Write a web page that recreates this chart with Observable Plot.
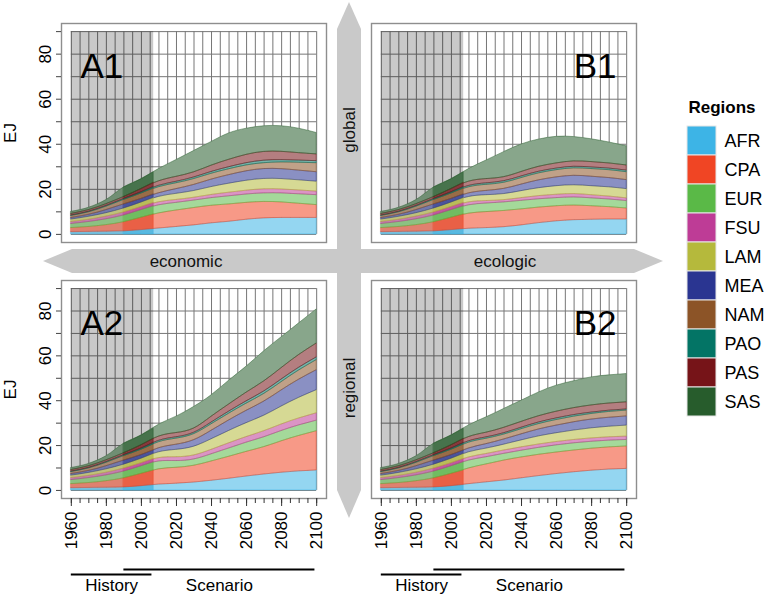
<!DOCTYPE html>
<html><head><meta charset="utf-8">
<script src="https://cdn.jsdelivr.net/npm/d3@7"></script>
<script src="https://cdn.jsdelivr.net/npm/@observablehq/plot@0.6"></script>
<style>
body{margin:0;background:#fff;}
#fig{position:relative;width:767px;height:597px;overflow:hidden;font-family:"Liberation Sans",Arial,Helvetica,sans-serif;}
#fig svg{position:absolute;left:0;top:0;}
</style></head><body><div id="fig"></div>
<script>
// ---------------- data ----------------
const regions = ["AFR","CPA","EUR","FSU","LAM","MEA","NAM","PAO","PAS","SAS"];
const regionColors = ["#3db4e6","#f04524","#5ab947","#be3c96","#b5b93c","#2a3591","#8c5427","#037465","#761418","#275c2c"];
const panels = ["A1","B1","A2","B2"];
const axisNames = ["economic","ecologic","global","regional"];

const historyYears = [1960, 1970, 1975, 1980, 1990, 2000, 2007];
const historyEJ = [
  [1.0, 1.1, 1.15, 1.2, 1.35, 1.9, 2.4],   // AFR
  [1.8, 2.2, 2.5, 2.9, 4.05, 5.5, 6.5],    // CPA
  [1.8, 2.2, 2.4, 2.6, 3.0, 3.4, 3.7],     // EUR
  [0.9, 1.0, 1.1, 1.2, 1.35, 1.35, 1.4],   // FSU
  [1.1, 1.3, 1.4, 1.5, 1.75, 2.0, 2.3],    // LAM
  [0.7, 0.9, 1.1, 1.4, 1.8, 1.6, 1.5],     // MEA
  [0.9, 1.1, 1.3, 1.5, 2.0, 2.4, 2.7],     // NAM
  [0.2, 0.25, 0.3, 0.33, 0.4, 0.5, 0.6],   // PAO
  [0.7, 0.75, 0.75, 0.8, 0.9, 1.5, 1.9],   // PAS
  [0.9, 1.0, 1.3, 1.8, 4.2, 4.3, 4.5]      // SAS
];

const scenarioYears = [1990, 2000, 2010, 2020, 2030, 2040, 2050, 2060, 2070, 2080, 2090, 2100];
const scenarioA1 = [
  [1.35,1.9,2.6,3.3,4.0,4.9,5.6,6.5,7.1,7.3,7.3,7.3],
  [4.05,5.5,6.7,7.3,7.7,7.8,7.7,7.5,7.3,6.9,6.3,5.7],
  [3.0,3.4,3.6,3.4,3.3,3.4,3.6,3.7,3.8,4.0,4.2,4.4],
  [1.35,1.35,1.35,1.3,1.25,1.4,1.6,1.7,1.8,1.75,1.7,1.6],
  [1.75,2.0,2.4,2.7,3.0,3.5,4.0,4.4,4.6,4.6,4.5,4.4],
  [1.8,1.6,1.6,2.1,2.7,3.3,3.8,4.2,4.4,4.4,4.3,4.2],
  [2.0,2.4,2.7,2.6,2.6,2.6,2.6,2.6,2.6,3.0,3.5,4.0],
  [0.4,0.5,0.6,0.65,0.7,0.8,0.9,1.0,1.1,1.0,0.95,0.9],
  [0.9,1.5,2.0,2.2,2.3,2.8,3.3,3.7,3.9,3.7,3.3,3.0],
  [4.2,4.35,5.45,7.45,9.45,10.5,11.7,11.6,11.4,11.35,10.85,9.5]
];
const scenarioB1 = [
  [1.35,1.9,2.5,2.8,3.2,4.0,5.0,5.8,6.3,6.5,6.6,6.6],
  [4.05,5.5,6.7,7.1,7.2,7.1,6.9,6.7,6.5,6.0,5.5,4.9],
  [3.0,3.4,3.7,3.8,3.8,3.8,3.7,3.6,3.6,3.5,3.4,3.3],
  [1.35,1.35,1.3,1.1,1.0,1.2,1.4,1.5,1.5,1.4,1.3,1.2],
  [1.75,2.0,2.4,2.6,2.7,3.1,3.5,3.8,3.9,4.0,4.1,4.1],
  [1.8,1.6,1.6,1.9,2.3,2.9,3.5,3.9,4.2,4.2,4.1,4.0],
  [2.0,2.4,2.7,2.7,2.7,2.9,3.1,3.2,3.3,3.4,3.5,3.5],
  [0.4,0.5,0.6,0.65,0.7,0.7,0.7,0.7,0.7,0.7,0.7,0.7],
  [0.9,1.5,1.9,1.9,1.8,2.0,2.2,2.3,2.4,2.4,2.3,2.3],
  [4.2,4.35,5.6,8.25,11.1,12.2,12.1,11.8,10.8,10.1,9.3,8.5]
];
const scenarioA2 = [
  [1.35,1.9,2.6,3.0,3.5,4.3,5.2,6.2,7.1,7.9,8.5,8.9],
  [4.05,5.5,6.8,7.1,7.5,8.6,9.8,11.0,12.2,14.0,15.8,17.5],
  [3.0,3.4,3.5,3.0,2.8,3.2,3.7,4.1,4.4,4.6,4.7,4.7],
  [1.35,1.35,1.5,1.7,1.8,2.0,2.3,2.5,2.7,2.9,3.1,3.3],
  [1.75,2.0,2.6,3.3,3.9,4.7,5.5,6.2,6.9,8.0,9.2,10.3],
  [1.8,1.6,1.8,2.3,2.9,3.8,4.7,5.5,6.3,7.2,8.1,8.9],
  [2.0,2.4,2.7,2.7,2.7,2.9,3.0,3.2,3.4,3.7,4.1,4.5],
  [0.4,0.5,0.6,0.6,0.6,0.75,0.9,1.0,1.1,1.15,1.2,1.2],
  [0.9,1.5,1.9,1.9,1.9,2.6,3.2,3.9,4.5,5.1,5.7,6.2],
  [4.2,4.35,5.3,7.3,9.6,9.55,10.6,11.6,13.4,13.75,14.1,15.2]
];
const scenarioB2 = [
  [1.35,1.9,2.8,3.6,4.4,5.4,6.4,7.3,8.1,8.8,9.3,9.6],
  [4.05,5.5,7.0,8.0,8.9,9.3,9.5,9.6,9.7,9.8,9.9,10.0],
  [3.0,3.4,3.5,3.2,3.0,3.0,3.1,3.2,3.2,3.1,3.0,2.9],
  [1.35,1.35,1.4,1.45,1.5,1.5,1.5,1.5,1.5,1.5,1.5,1.5],
  [1.75,2.0,2.3,2.4,2.6,3.1,3.6,3.9,4.2,4.5,4.7,4.9],
  [1.8,1.6,1.7,2.0,2.3,2.7,3.1,3.4,3.7,3.9,4.0,4.1],
  [2.0,2.4,2.6,2.4,2.2,2.3,2.4,2.5,2.5,2.5,2.6,2.6],
  [0.4,0.5,0.6,0.6,0.6,0.65,0.7,0.7,0.7,0.6,0.55,0.5],
  [0.9,1.5,1.9,2.1,2.4,2.6,2.8,3.0,3.1,3.2,3.2,3.2],
  [4.2,4.35,5.2,6.85,8.4,9.45,10.6,11.6,12.0,12.5,12.55,12.6]
];

const xTicks = [1960,1965,1970,1975,1980,1985,1990,1995,2000,2005,2010,2015,2020,2025,2030,2035,2040,2045,2050,2055,2060,2065,2070,2075,2080,2085,2090,2095,2100];
const xLabels = [1960,1980,2000,2020,2040,2060,2080,2100];
const yTicks = [0,10,20,30,40,50,60,70,80,90];
const yLabels = [0,20,40,60,80];
const yUnit = "EJ";
const historySpan = [1960, 2007];
const periodNames = ["History","Scenario"];
const periodStart = [1960, 1990];
const periodEnd = [2006, 2099];
const legendTitle = "Regions";

// ---------------- layout ----------------
const W = 767, H = 597;
const FONT = '"Liberation Sans", Arial, Helvetica, sans-serif';
const fig = document.getElementById("fig");
const scenarios = {A1: scenarioA1, B1: scenarioB1, A2: scenarioA2, B2: scenarioB2};
const boxes = {
  A1: {left: 61, right: 326, top: 23, bottom: 242, yAxis: true, xAxis: false, side: "left"},
  B1: {left: 371, right: 636, top: 23, bottom: 242, yAxis: false, xAxis: false, side: "right"},
  A2: {left: 61, right: 326, top: 280, bottom: 498, yAxis: true, xAxis: true, side: "left"},
  B2: {left: 371, right: 636, top: 280, bottom: 498, yAxis: false, xAxis: true, side: "right"}
};
const xMin = xTicks[0], xMax = xTicks[xTicks.length - 1];
const yMin = yTicks[0], yMax = yTicks[yTicks.length - 1];
const xPad = 0.04 * (xMax - xMin), yPad = 0.04 * (yMax - yMin);
const xDomain = [xMin - xPad, xMax + xPad];
const yDomain = [yMin - yPad, yMax + yPad];
const colorScale = {domain: regions, range: regionColors};
const histCurve = "monotone-x";
const scenCurve = "natural";

const toRows = (years, matrix) =>
  regions.flatMap((r, i) => years.map((year, j) => ({region: r, year, value: matrix[i][j]})));
const historyRows = toRows(historyYears, historyEJ);

// ---------------- background arrows ----------------
const bg = d3.create("svg").attr("width", W).attr("height", H)
  .style("font-family", FONT).style("font-size", "17px");
const gray = "#c9c9c9";
bg.append("path").attr("fill", gray)
  .attr("d", "M349,2 L361,29 L361,490 L349,518 L337,490 L337,29 Z");
bg.append("path").attr("fill", gray)
  .attr("d", "M43,261 L72,249 L634,249 L663,261 L634,273 L72,273 Z");
const arrowText = [
  {t: axisNames[0], x: 186, y: 261, r: 0},
  {t: axisNames[1], x: 505, y: 261, r: 0},
  {t: axisNames[2], x: 349, y: 130, r: -90},
  {t: axisNames[3], x: 349, y: 388, r: -90}
];
bg.selectAll("text.arrow").data(arrowText).join("text")
  .attr("transform", d => `translate(${d.x},${d.y}) rotate(${d.r})`)
  .attr("text-anchor", "middle").attr("dy", "0.36em").attr("fill", "#111")
  .text(d => d.t);
fig.appendChild(bg.node());

// ---------------- panels ----------------
function panelPlot(name) {
  const L = boxes[name];
  const rows = toRows(scenarioYears, scenarios[name]);
  const marks = [
    Plot.ruleX(xTicks, {x: d => d, y1: yMin, y2: yMax, stroke: "#767676", strokeWidth: 1}),
    Plot.ruleY(yTicks, {y: d => d, x1: xMin, x2: xMax, stroke: "#767676", strokeWidth: 1}),
    Plot.areaY(historyRows, {x: "year", y: "value", z: "region", fill: "white", curve: histCurve}),
    Plot.areaY(rows, {x: "year", y: "value", z: "region", fill: "white", curve: scenCurve}),
    Plot.rect([historySpan], {x1: d => d[0], x2: d => d[1], y1: yMin, y2: yMax, fill: "black", fillOpacity: 0.21}),
    Plot.areaY(rows, {x: "year", y: "value", z: "region", fill: "region", fillOpacity: 0.55,
      stroke: "region", strokeWidth: 0.6, strokeOpacity: 0.8, curve: scenCurve}),
    Plot.areaY(historyRows, {x: "year", y: "value", z: "region", fill: "region", fillOpacity: 0.55,
      stroke: "region", strokeWidth: 0.6, strokeOpacity: 0.8, curve: histCurve}),
    Plot.frame({stroke: "#8e8e8e", strokeWidth: 1.4}),
    L.side === "left"
      ? Plot.text([name], {frameAnchor: "top-left", dx: 19, dy: 54, lineAnchor: "bottom", textAnchor: "start", fontSize: 35, fill: "black"})
      : Plot.text([name], {frameAnchor: "top-right", dx: -20, dy: 54, lineAnchor: "bottom", textAnchor: "end", fontSize: 35, fill: "black"})
  ];
  if (L.yAxis) {
    marks.push(
      Plot.axisY(yTicks, {tickSize: 5, tickFormat: () => "", stroke: "#444", label: null}),
      Plot.text(yLabels, {y: d => d, text: d => String(d), frameAnchor: "left", dx: -11, rotate: -90, lineAnchor: "bottom", textAnchor: "middle", fontSize: 17}),
      Plot.text([yUnit], {frameAnchor: "left", dx: -51, rotate: -90, textAnchor: "middle", fontSize: 17})
    );
  }
  if (L.xAxis) {
    marks.push(
      Plot.axisX(xTicks, {tickSize: 5, tickFormat: () => "", stroke: "#333", label: null}),
      Plot.axisX(xLabels, {tickSize: 8, tickFormat: () => "", stroke: "#333", label: null}),
      Plot.text(xLabels, {x: d => d, text: d => String(d), frameAnchor: "bottom", dy: 13, rotate: -90, textAnchor: "end", lineAnchor: "middle", fontSize: 17})
    );
  }
  const opts = {
    width: W, height: H,
    marginLeft: L.left, marginRight: W - L.right, marginTop: L.top, marginBottom: H - L.bottom,
    x: L.xAxis ? {domain: xDomain} : {domain: xDomain, axis: null},
    y: L.yAxis ? {domain: yDomain} : {domain: yDomain, axis: null},
    color: colorScale,
    style: {background: "transparent", fontFamily: FONT, fontSize: "17px", color: "black", overflow: "visible"},
    marks
  };
  return Plot.plot(opts);
}

function timelinePlot(name) {
  const L = boxes[name];
  const periods = periodNames.map((n, i) => ({name: n, start: periodStart[i], end: periodEnd[i]}));
  return Plot.plot({
    width: W, height: H,
    marginLeft: L.left, marginRight: W - L.right, marginTop: 569, marginBottom: H - 574,
    x: {domain: xDomain, axis: null},
    y: {type: "point", domain: ["Scenario", "History"], padding: 0, axis: null},
    style: {background: "transparent", fontFamily: FONT, fontSize: "17px", color: "black", overflow: "visible"},
    marks: [
      Plot.ruleY(periods, {y: "name", x1: "start", x2: "end", stroke: "black", strokeWidth: 2}),
      Plot.text(periods, {x: d => (d.start + d.end) / 2, y: () => "History", dy: 16, lineAnchor: "bottom", text: "name", fontSize: 17})
    ]
  });
}

function legendPlot() {
  return Plot.plot({
    width: W, height: H,
    marginLeft: 687, marginRight: W - 716, marginTop: 124, marginBottom: H - 418,
    x: {type: "band", domain: ["swatch"], padding: 0, axis: null},
    y: {type: "band", domain: regions, padding: 0, axis: null},
    color: colorScale,
    style: {background: "transparent", fontFamily: FONT, fontSize: "18px", color: "black", overflow: "visible"},
    marks: [
      Plot.cell(regions, {x: () => "swatch", y: d => d, fill: d => d, stroke: "#e6e6e6", strokeWidth: 1, inset: 0}),
      Plot.text(regions, {y: d => d, frameAnchor: "right", dx: 8, textAnchor: "start", fontSize: 18}),
      Plot.text([legendTitle], {frameAnchor: "top-left", dx: 1, dy: -12, lineAnchor: "bottom", textAnchor: "start", fontWeight: "bold", fontSize: 17})
    ]
  });
}

for (const p of panels) fig.appendChild(panelPlot(p));
fig.appendChild(timelinePlot("A2"));
fig.appendChild(timelinePlot("B2"));
fig.appendChild(legendPlot());
</script>
</body></html>
